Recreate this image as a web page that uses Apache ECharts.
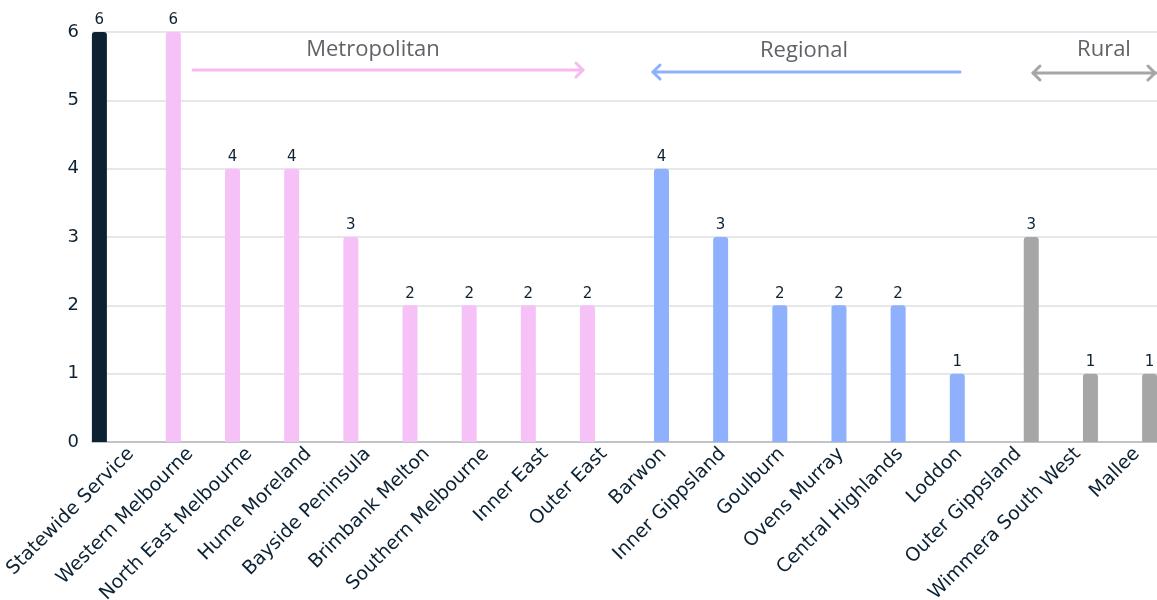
<!DOCTYPE html>
<html>
<head>
<meta charset="utf-8">
<script src="https://cdn.jsdelivr.net/npm/echarts@6/dist/echarts.min.js"></script>
<style>
html,body{margin:0;padding:0;background:#fff;}
#chart{width:1157px;height:600px;}
</style>
</head>
<body>
<div id="chart"></div>
<script>
const categories = ['Statewide Service','Western Melbourne','North East Melbourne','Hume Moreland','Bayside Peninsula','Brimbank Melton','Southern Melbourne','Inner East','Outer East','Barwon','Inner Gippsland','Goulburn','Ovens Murray','Central Highlands','Loddon','Outer Gippsland','Wimmera South West','Mallee'];
const values = [6,6,4,4,3,2,2,2,2,4,3,2,2,2,1,3,1,1];
const groupOf = [0,1,1,1,1,1,1,1,1,2,2,2,2,2,2,3,3,3];
const groupColors = ['#0c2233','#f6c1f6','#8fb0fc','#a6a6a6'];
const regionNames = ['Metropolitan','Regional','Rural'];

const textColor = '#0c2233';
const fontFam = '"DejaVu Sans", sans-serif';

const chart = echarts.init(document.getElementById('chart'), null, {renderer:'canvas'});

const barData = values.map((v,i)=>({
  value:[i + 0.25*groupOf[i], v],
  itemStyle:{color:groupColors[groupOf[i]]}
}));

const xMin = -0.125, span = 18;
const labelShift = 0.66;

function arrowHead(x,y,dir,color){
  return {type:'polyline', silent:true,
    shape:{points:[[x-dir*7,y-7],[x,y],[x-dir*7,y+7]]},
    style:{stroke:color,lineWidth:3,fill:null,lineCap:'round',lineJoin:'round'}};
}
function line(x1,x2,y,color){
  return {type:'line', silent:true, shape:{x1:x1,y1:y,x2:x2,y2:y},
    style:{stroke:color,lineWidth:3,lineCap:'round'}};
}
function label(x,y,t){
  return {type:'text', silent:true, x:x, y:y,
    style:{text:t, fill:'#5f6368', font:'22px "Open Sans", "Noto Sans", sans-serif', textAlign:'center', textVerticalAlign:'middle'}};
}

const option = {
  animation:false,
  backgroundColor:'#ffffff',
  grid:{left:92, right:0, top:32, bottom:158, containLabel:false, outerBoundsMode:'none'},
  xAxis:[
    {type:'value', min:xMin, max:xMin+span, position:'bottom',
      axisLine:{show:true, onZero:false, lineStyle:{color:'#b5b8bd', width:1.5}},
      axisTick:{show:false}, axisLabel:{show:false}, splitLine:{show:false}},
    {type:'value', min:-labelShift, max:-labelShift+span, position:'bottom',
      axisLine:{show:false}, axisTick:{show:false}, splitLine:{show:false},
      axisLabel:{show:true, customValues:categories.map((c,i)=>i), rotate:45, margin:9,
        fontSize:19, color:textColor, fontFamily:fontFam,
        formatter:(v)=>categories[Math.round(v)] || ''}}
  ],
  yAxis:{type:'value', min:0, max:6, interval:1,
    axisLine:{show:false}, axisTick:{show:false},
    axisLabel:{fontSize:18, color:textColor, margin:13, fontFamily:fontFam},
    splitLine:{show:true, lineStyle:{color:'#dcdfe3', width:1.5}}},
  series:[{
    type:'bar', xAxisIndex:0, yAxisIndex:0, barWidth:15,
    data:barData,
    itemStyle:{borderRadius:[3,3,0,0]},
    label:{show:true, position:'top', distance:4, fontSize:15, color:textColor, fontFamily:fontFam}
  }],
  graphic:[
    line(193,583,70,'#f7b9f2'), arrowHead(583,70,1,'#f7b9f2'), label(373,50,regionNames[0]),
    line(653,960,72,'#8fb0fc'), arrowHead(653,72,-1,'#8fb0fc'), label(804,51,regionNames[1]),
    line(1033,1156,73,'#a6a6a6'), arrowHead(1033,73,-1,'#a6a6a6'), arrowHead(1155,73,1,'#a6a6a6'), label(1104,50,regionNames[2])
  ]
};
chart.setOption(option);
</script>
</body>
</html>
